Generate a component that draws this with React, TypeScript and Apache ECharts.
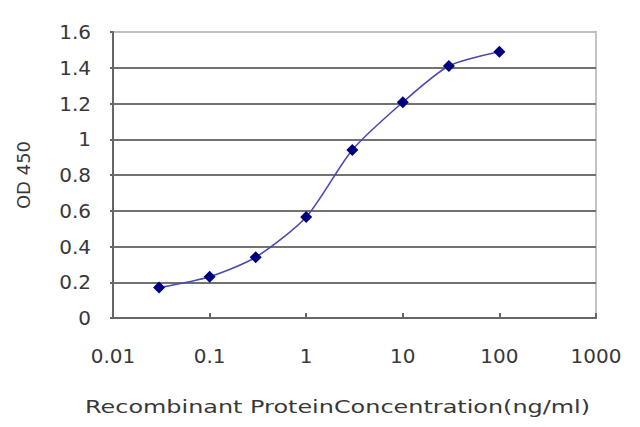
import React, { useEffect, useRef } from "react";
import * as echarts from "echarts";

const concentrations = [0.03, 0.1, 0.3, 1, 3, 10, 30, 100];
const odValues = [0.17, 0.231, 0.34, 0.565, 0.94, 1.207, 1.41, 1.49];
const xTickLabels = ["0.01", "0.1", "1", "10", "100", "1000"];
const yTickLabels = ["0", "0.2", "0.4", "0.6", "0.8", "1", "1.2", "1.4", "1.6"];
const xTitle = "Recombinant ProteinConcentration(ng/ml)";
const yTitle = "OD 450";

const FONT = "DejaVu Sans";

export default function App() {
  const ref = useRef<HTMLDivElement>(null);
  useEffect(() => {
    if (!ref.current) return;
    const chart = echarts.init(ref.current, undefined, { renderer: "svg" });
    const data = concentrations.map((c, i) => [c, odValues[i]]);
    chart.setOption({
      animation: false,
      backgroundColor: "#ffffff",
      grid: { left: 113, top: 32, right: 44, bottom: 109, show: true, borderColor: "#c4c4c4", borderWidth: 2 },
      xAxis: {
        type: "log",
        logBase: 10,
        min: 0.01,
        max: 1000,
        axisLine: { show: true, lineStyle: { color: "#666666", width: 2 } },
        axisTick: { show: true, inside: true, length: 5, lineStyle: { color: "#666666", width: 2 } },
        minorTick: { show: false },
        splitLine: { show: false },
        axisLabel: {
          margin: 28,
          fontFamily: FONT,
          fontSize: 20,
          color: "#383838",
          formatter: (_v: number, i: number) => xTickLabels[i] ?? "",
        },
      },
      yAxis: {
        type: "value",
        min: 0,
        max: 1.6,
        interval: 0.2,
        axisLine: { show: true, lineStyle: { color: "#666666", width: 2 } },
        axisTick: { show: true, inside: false, length: 3, lineStyle: { color: "#666666", width: 2 } },
        splitLine: {
          show: true,
          lineStyle: {
            width: 2.2,
            color: ["#727272", "#727272", "#727272", "#727272", "#727272", "#727272", "#727272", "#727272", "#bdbdbd"],
          },
        },
        axisLabel: {
          margin: 22,
          fontFamily: FONT,
          fontSize: 20,
          color: "#383838",
          formatter: (_v: number, i: number) => yTickLabels[i] ?? "",
        },
      },
      graphic: [
        {
          type: "text",
          x: 85,
          y: 407,
          scaleX: 1.33,
          style: {
            text: xTitle,
            fontFamily: FONT,
            fontSize: 18,
            fill: "#383838",
            textAlign: "left",
            textVerticalAlign: "middle",
          },
        },
        {
          type: "text",
          x: 23,
          y: 175,
          rotation: Math.PI / 2,
          style: {
            text: yTitle,
            fontFamily: FONT,
            fontSize: 18,
            fill: "#383838",
            textAlign: "center",
            textVerticalAlign: "middle",
          },
        },
      ],
      series: [
        {
          type: "line",
          data,
          smooth: 0.25,
          symbol: "diamond",
          symbolSize: 12,
          itemStyle: { color: "#00007f" },
          lineStyle: { color: "#4a4ab4", width: 1.6 },
        },
      ],
    });
    return () => chart.dispose();
  }, []);
  return <div ref={ref} style={{ position: "fixed", left: 0, top: 0, width: 640, height: 427 }} />;
}
